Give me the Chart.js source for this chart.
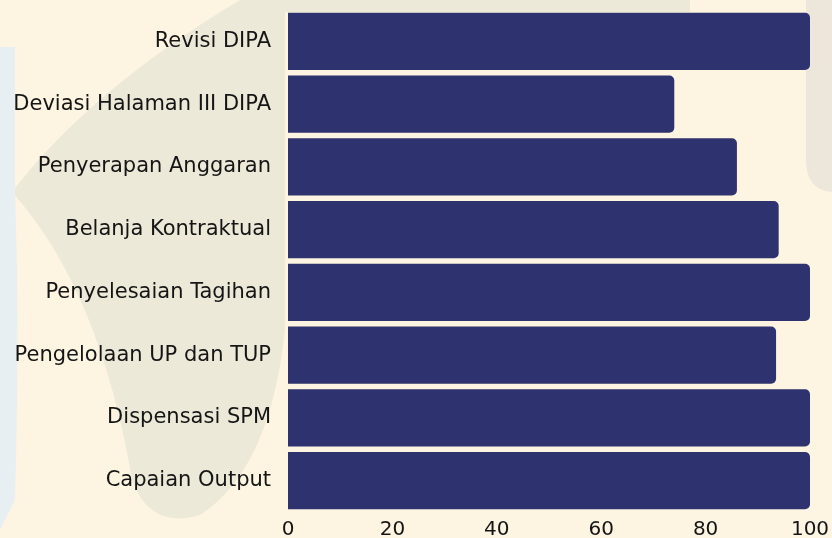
<!DOCTYPE html>
<html>
<head>
<meta charset="utf-8">
<script src="https://cdn.jsdelivr.net/npm/chart.js@4/dist/chart.umd.min.js"></script>
<style>
  html, body { margin: 0; padding: 0; background: #fdf5e1; }
  #wrap { width: 832px; height: 538px; position: relative; }
</style>
</head>
<body>
<div id="wrap"><canvas id="kinerjaChart"></canvas></div>
<script>
// indicator names and scores
const categories = [
	'Revisi DIPA',
	'Deviasi Halaman III DIPA',
	'Penyerapan Anggaran',
	'Belanja Kontraktual',
	'Penyelesaian Tagihan',
	'Pengelolaan UP dan TUP',
	'Dispensasi SPM',
	'Capaian Output',
];
const scores = [100, 74, 86, 94, 100, 93.5, 100, 100];
const xTicks = [0, 20, 40, 60, 80, 100];

// soft decorative shapes behind the chart
const backdrop = {
	id: 'backdrop',
	beforeDraw(chart) {
		const c = chart.ctx;
		c.save();
		c.fillStyle = '#fdf5e1';
		c.fillRect(0, 0, chart.width, chart.height);

		// grey-green blob
		c.fillStyle = '#ece9d9';
		c.beginPath();
		c.moveTo(240, 0);
		c.quadraticCurveTo(90, 90, 12, 192);
		c.quadraticCurveTo(100, 290, 132, 480);
		c.quadraticCurveTo(150, 530, 200, 515);
		c.quadraticCurveTo(270, 470, 285, 330);
		c.lineTo(285, 12);
		c.lineTo(690, 12);
		c.lineTo(690, 0);
		c.closePath();
		c.fill();

		// light blue strip on the left
		c.fillStyle = '#e7eff3';
		c.beginPath();
		c.moveTo(0, 47);
		c.lineTo(15, 47);
		c.lineTo(15, 190);
		c.quadraticCurveTo(20, 330, 15, 500);
		c.lineTo(0, 530);
		c.closePath();
		c.fill();

		// grey shape on the right
		c.fillStyle = '#ede7db';
		c.beginPath();
		c.moveTo(806, 0);
		c.lineTo(832, 0);
		c.lineTo(832, 192);
		c.quadraticCurveTo(806, 190, 806, 160);
		c.closePath();
		c.fill();
		c.restore();
	},
};

const ctx = document.getElementById('kinerjaChart').getContext('2d');

const myChart = new Chart(ctx, {
	type: 'bar',
	data: {
		labels: categories,
		datasets: [
			{
				label: 'Nilai',
				data: scores,
				backgroundColor: '#2e326e',
				borderRadius: 5,
				barPercentage: 0.91,
				categoryPercentage: 1,
			},
		],
	},
	options: {
		indexAxis: 'y',
		responsive: true,
		maintainAspectRatio: false,
		animation: false,
		layout: {
			padding: { top: 10, right: 22, bottom: 0, left: 0 },
		},
		plugins: {
			legend: { display: false },
			tooltip: { enabled: false },
		},
		scales: {
			y: {
				grid: { display: false, drawTicks: false },
				border: { display: false },
				afterFit: (axis) => {
					axis.width = 288;
					axis.paddingTop = 0;
					axis.paddingBottom = 0;
				},
				ticks: {
					color: '#151515',
					padding: 17,
					font: { family: 'DejaVu Sans', size: 21 },
				},
			},
			x: {
				min: 0,
				max: 100,
				grid: { display: false, drawTicks: false },
				border: { display: false },
				afterBuildTicks: (axis) => {
					axis.ticks = xTicks.map((v) => ({ value: v }));
				},
				afterFit: (axis) => {
					axis.height = 26;
					axis.paddingLeft = 0;
					axis.paddingRight = 0;
				},
				ticks: {
					color: '#151515',
					padding: 8,
					font: { family: 'DejaVu Sans', size: 20, lineHeight: 1 },
				},
			},
		},
	},
	plugins: [backdrop],
});
</script>
</body>
</html>
